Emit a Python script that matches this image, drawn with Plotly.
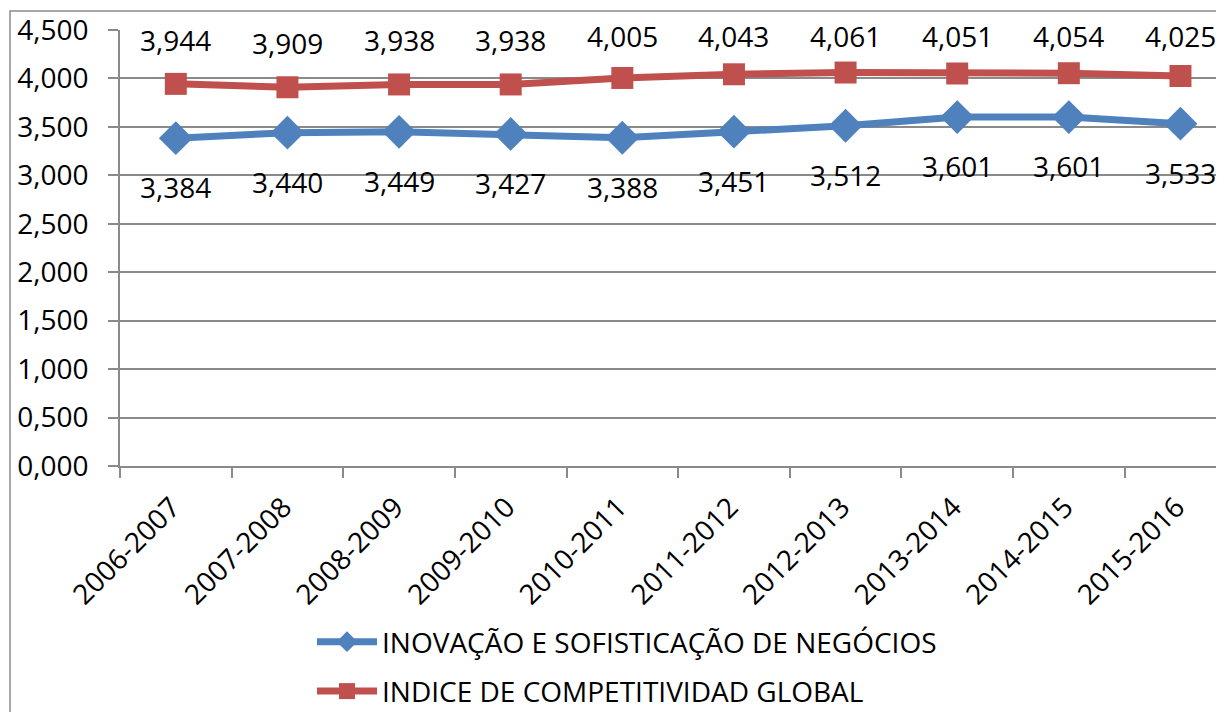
import plotly.graph_objects as go

categories = ["2006-2007", "2007-2008", "2008-2009", "2009-2010", "2010-2011",
              "2011-2012", "2012-2013", "2013-2014", "2014-2015", "2015-2016"]
inovacao = [3.384, 3.440, 3.449, 3.427, 3.388, 3.451, 3.512, 3.601, 3.601, 3.533]
indice = [3.944, 3.909, 3.938, 3.938, 4.005, 4.043, 4.061, 4.051, 4.054, 4.025]
name_inov = "INOVAÇÃO E SOFISTICAÇÃO DE NEGÓCIOS"
name_ind = "INDICE DE COMPETITIVIDAD GLOBAL"
y_ticks = [0, 0.5, 1.0, 1.5, 2.0, 2.5, 3.0, 3.5, 4.0, 4.5]

BLUE = "#4F81BD"
RED = "#C0504D"
GRID = "#8a8a8a"
FONT = "Open Sans"

# page body has an 8px margin: figure coordinates = screen coordinates - 8
OFF = 8
W, H = 1216, 704
L = 120 - OFF
T = 30 - OFF
BOTTOM = 466 - OFF
B = H - BOTTOM
pw = W - L
ph = BOTTOM - T
YMAX = 4.5
scale = ph / YMAX  # pixels per unit


def px_x(p):
    return (p - OFF - L) / pw


def px_y(p):
    return (BOTTOM - (p - OFF)) / ph


fig = go.Figure()
fig.add_trace(go.Scatter(
    x=categories, y=inovacao, mode="lines+markers", name=name_inov,
    line=dict(color=BLUE, width=7),
    marker=dict(symbol="diamond", size=26, color=BLUE),
    legendgroup="a", hoverinfo="skip"))
fig.add_trace(go.Scatter(
    x=categories, y=indice, mode="lines+markers", name=name_ind,
    line=dict(color=RED, width=7),
    marker=dict(symbol="square", size=22, color=RED),
    legendgroup="b", hoverinfo="skip"))

annotations = []
for c, v in zip(categories, indice):
    # labels above, kept inside the plot area (Excel behaviour)
    shift = min(44, (YMAX - v) * scale - 6)
    annotations.append(dict(x=c, y=v, xref="x", yref="y", text=f"{v:.3f}".replace(".", ","),
                            showarrow=False, yshift=shift,
                            font=dict(family=FONT, size=28, color="black")))
for c, v in zip(categories, inovacao):
    annotations.append(dict(x=c, y=v, xref="x", yref="y", text=f"{v:.3f}".replace(".", ","),
                            showarrow=False, yshift=-49,
                            font=dict(family=FONT, size=28, color="black")))

fig.update_layout(
    width=W, height=H,
    margin=dict(l=L, r=0, t=T, b=B, autoexpand=False),
    paper_bgcolor="white", plot_bgcolor="white",
    separators=",.",
    font=dict(family=FONT, size=28, color="black"),
    annotations=annotations,
    showlegend=True,
    legend=dict(x=px_x(312), y=px_y(617), xanchor="left", yanchor="top",
                orientation="v", font=dict(family=FONT, size=28, color="black"),
                tracegroupgap=10, itemwidth=60, bgcolor="rgba(0,0,0,0)"),
    shapes=[dict(type="rect", xref="paper", yref="paper",
                 x0=px_x(10), x1=px_x(1300), y0=px_y(800), y1=px_y(11),
                 line=dict(color=GRID, width=1.5), fillcolor="rgba(0,0,0,0)", layer="below")],
    xaxis=dict(type="category", range=[-0.5, 9.39],
               tickangle=-45, showgrid=False, showline=True, linecolor=GRID, linewidth=1.5,
               ticks="outside", ticklen=10, tickcolor=GRID, tickwidth=1.5, tickson="boundaries",
               ticklabelstandoff=12, ticklabelshift=-4,
               tickfont=dict(family=FONT, size=28), zeroline=False),
    yaxis=dict(range=[0, YMAX], tickmode="array", tickvals=y_ticks, tickformat=".3f",
               showgrid=True, gridcolor=GRID, gridwidth=1.5,
               showline=True, linecolor=GRID, linewidth=1.5,
               ticks="outside", ticklen=10, tickcolor=GRID, tickwidth=1.5,
               ticklabelstandoff=14,
               tickfont=dict(family=FONT, size=28), zeroline=False),
)

fig.write_html("out.html")
